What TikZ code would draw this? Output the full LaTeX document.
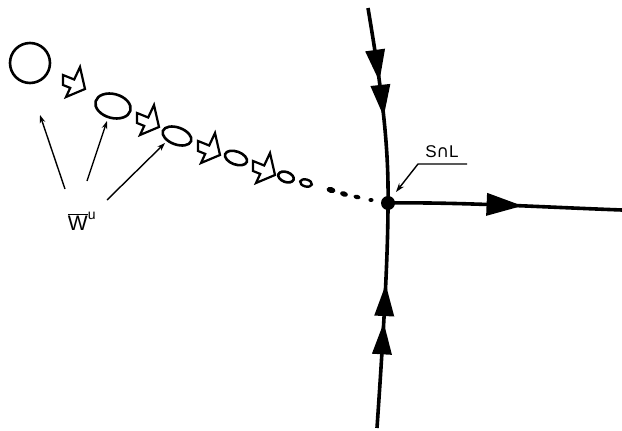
\documentclass[tikz,border=0pt]{standalone}
\usepackage{fontspec}
\setmainfont{Liberation Sans}
\newfontfamily\djv{DejaVu Sans}
\usetikzlibrary{arrows.meta,decorations.markings}
\begin{document}
\begin{tikzpicture}[x=1pt,y=-1pt,
  blob/.style={line width=2.6pt},
  thinarrow/.style={line width=1.4pt,-{Stealth[length=8pt,width=5.5pt]}},
  flow/.style={line width=3.6pt},
  harrow/.style={line width=2.2pt,line join=miter},
  twoheads/.style 2 args={postaction={decorate,decoration={markings,
      mark=at position #1 with {\arrow{Triangle[length=32pt,width=19pt]}},
      mark=at position #2 with {\arrow{Triangle[length=32pt,width=19pt]}}}}},
  onehead/.style={postaction={decorate,decoration={markings,
      mark=at position #1 with {\arrow{Triangle[length=36pt,width=22pt]}}}}},
  pics/harr/.style={code={\draw[harrow] (-10,-7) -- (1.2,-2.5) -- (7,-15) -- (12,7) -- (-7,15) -- (-2.8,5.9) -- (-10,3) -- cycle;}}
  ]
\useasboundingbox (0,0) rectangle (622,431);

% chain of shrinking blobs
\draw[blob] (30,63) circle (20pt);
\draw[blob,rotate around={-15:(113,106)}] (113,106) ellipse (18pt and 12pt);
\draw[blob,rotate around={-20:(177,136)}] (177,136) ellipse (15pt and 8.5pt);
\draw[blob,rotate around={-20:(236,158)}] (236,158) ellipse (11.5pt and 6.5pt);
\draw[blob,rotate around={-20:(286,177)}] (286,177) ellipse (8pt and 5pt);
\draw[line width=2.4pt,rotate around={-15:(306,183)}] (306,183) ellipse (6pt and 3.5pt);
\fill[rotate around={-15:(331,190)}] (331,190) ellipse (4.5pt and 3pt);
\fill[rotate around={-15:(344,194)}] (344,194) ellipse (4pt and 2.6pt);
\fill[rotate around={-15:(357,197)}] (357,197) ellipse (3.5pt and 2.3pt);
\fill (371,200) ellipse (2.6pt and 2pt);

% hollow arrows
\pic at (73,82) {harr};
\pic at (147,120) {harr};
\pic at (208,148) {harr};
\pic at (263,168) {harr};

% label W^u and its arrows
\node[font=\fontsize{21}{21}\selectfont,inner sep=0pt] (wu) at (82,221)
  {$\overline{\hbox{W}}^{\hbox{\fontsize{14}{14}\selectfont u}}$};
\coordinate (s1) at (65,189); \coordinate (t1) at (40,115);
\coordinate (s2) at (87,181); \coordinate (t2) at (107,121);
\coordinate (s3) at (107,200); \coordinate (t3) at (165,143);
\draw[thinarrow] (s1) -- (t1);
\draw[thinarrow] (s2) -- (t2);
\draw[thinarrow] (s3) -- (t3);

% saddle point and its invariant curves
\node[circle,fill,inner sep=0pt,minimum size=14pt] (p) at (388,203) {};
\coordinate (top) at (368,8);
\coordinate (bot) at (377,428);
\coordinate (rt) at (622,210);
\draw[flow,twoheads={0.38}{0.56}] (top) .. controls (380,80) and (389,140) .. (p.center);
\draw[flow,twoheads={0.47}{0.64}] (bot) .. controls (383,340) and (388,260) .. (p.center);
\draw[flow,onehead=0.575] (p.center) .. controls (460,202) and (540,207) .. (rt);

% S cap L label
\node[font=\fontsize{17}{17}\selectfont,inner sep=0pt] (snl) at (442,152) {S{\djv ∩}L};
\coordinate (u1) at (418,164);
\coordinate (u2) at (467,164);
\coordinate (lt) at (396,192);
\draw[line width=1.4pt,-{Stealth[length=9pt,width=6pt]}] (u2) -- (u1) -- (lt);
\end{tikzpicture}
\end{document}
